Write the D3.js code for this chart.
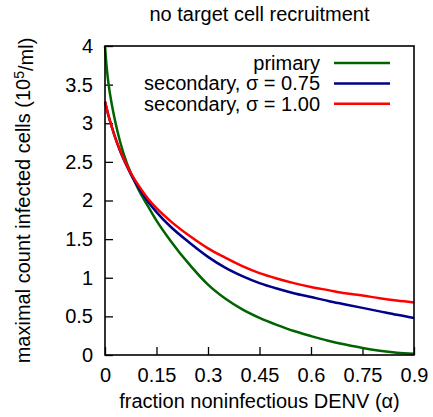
<!DOCTYPE html>
<html>
<head>
<meta charset="utf-8">
<script src="https://cdn.jsdelivr.net/npm/d3@7"></script>
<style>
  html, body { margin: 0; padding: 0; background: #fff; }
  svg { display: block; }
  text { font-family: "Liberation Sans", Arial, Helvetica, sans-serif; fill: #000; }
</style>
</head>
<body>
<svg id="chart" width="433" height="417"></svg>
<script>
// ---- data ----
const alpha = [0, 0.005, 0.01, 0.02, 0.03, 0.044, 0.063, 0.08, 0.1, 0.126, 0.15, 0.189, 0.25, 0.3, 0.35, 0.4, 0.45, 0.5, 0.55, 0.6, 0.65, 0.7, 0.75, 0.8, 0.85, 0.9];
const primary = [4.0, 3.72, 3.52, 3.24, 3.02, 2.76, 2.49, 2.31, 2.12, 1.92, 1.74, 1.49, 1.15, 0.91, 0.73, 0.59, 0.48, 0.39, 0.31, 0.245, 0.185, 0.135, 0.09, 0.055, 0.03, 0.015];
const secondary075 = [3.28, 3.19, 3.10, 2.95, 2.81, 2.64, 2.45, 2.30, 2.15, 1.98, 1.85, 1.67, 1.44, 1.27, 1.13, 1.02, 0.93, 0.86, 0.80, 0.75, 0.70, 0.655, 0.61, 0.565, 0.52, 0.48];
const secondary100 = [3.28, 3.19, 3.10, 2.95, 2.81, 2.65, 2.46, 2.32, 2.18, 2.02, 1.90, 1.74, 1.53, 1.38, 1.26, 1.15, 1.06, 0.99, 0.93, 0.88, 0.84, 0.80, 0.77, 0.735, 0.705, 0.68];

const seriesNames = ["primary", "secondary, σ = 0.75", "secondary, σ = 1.00"];
const seriesColors = ["#006400", "#00008b", "#ff0000"];
const seriesValues = [primary, secondary075, secondary100];

const xTicks = [0, 0.15, 0.3, 0.45, 0.6, 0.75, 0.9];
const xTickLabels = ["0", "0.15", "0.3", "0.45", "0.6", "0.75", "0.9"];
const yTicks = [0, 0.5, 1, 1.5, 2, 2.5, 3, 3.5, 4];
const yTickLabels = ["0", "0.5", "1", "1.5", "2", "2.5", "3", "3.5", "4"];

const titleText = "no target cell recruitment";
const xLabelText = "fraction noninfectious DENV (α)";

// ---- layout ----
const W = 433, H = 417;
const margin = { left: 105, top: 46, right: 19, bottom: 62 };
const pw = W - margin.left - margin.right;
const ph = H - margin.top - margin.bottom;
const FS = 20;

const svg = d3.select("#chart");
const g = svg.append("g").attr("transform", `translate(${margin.left},${margin.top})`);

const x = d3.scaleLinear().domain([0, 0.9]).range([0, pw]);
const y = d3.scaleLinear().domain([0, 4]).range([ph, 0]);

// axes with inward ticks
const xAxis = d3.axisBottom(x).tickValues(xTicks)
  .tickFormat((d, i) => xTickLabels[i]).tickSizeInner(-8).tickSizeOuter(0).tickPadding(13);
const yAxis = d3.axisLeft(y).tickValues(yTicks)
  .tickFormat((d, i) => yTickLabels[i]).tickSizeInner(-8).tickSizeOuter(0).tickPadding(12);

const gx = g.append("g").attr("transform", `translate(0,${ph})`).call(xAxis);
const gy = g.append("g").call(yAxis);
[gx, gy].forEach(a => {
  a.select(".domain").remove();
  a.selectAll(".tick line").attr("stroke", "#000").attr("stroke-width", 1.3);
  a.selectAll(".tick text").attr("font-size", FS).attr("font-family", "Liberation Sans, Arial, sans-serif");
});

// curves
const line = d3.line().x((d, i) => x(alpha[i])).y(d => y(d)).curve(d3.curveMonotoneX);
seriesValues.forEach((vals, k) => {
  g.append("path").datum(vals)
    .attr("d", line)
    .attr("fill", "none")
    .attr("stroke", seriesColors[k])
    .attr("stroke-width", 2.5)
    .attr("stroke-linejoin", "round");
});

// frame
g.append("rect").attr("x", 0).attr("y", 0).attr("width", pw).attr("height", ph)
  .attr("fill", "none").attr("stroke", "#000").attr("stroke-width", 1.6);

// legend
const legX = 320 - margin.left, legLine0 = 334 - margin.left, legLine1 = 390 - margin.left;
const legY0 = 63 - margin.top, legDy = 20.4;
seriesNames.forEach((name, k) => {
  const yy = legY0 + k * legDy;
  g.append("text").attr("x", legX).attr("y", yy).attr("dy", "0.35em")
    .attr("text-anchor", "end").attr("font-size", FS).text(name);
  g.append("line").attr("x1", legLine0).attr("x2", legLine1).attr("y1", yy).attr("y2", yy)
    .attr("stroke", seriesColors[k]).attr("stroke-width", 2.5);
});

// title
svg.append("text").attr("x", margin.left + pw / 2).attr("y", 21)
  .attr("text-anchor", "middle").attr("font-size", FS).text(titleText);

// x label
svg.append("text").attr("x", margin.left + pw / 2).attr("y", 408)
  .attr("text-anchor", "middle").attr("font-size", FS).text(xLabelText);

// y label with superscript
const yl = svg.append("text")
  .attr("transform", `translate(30,${margin.top + ph / 2}) rotate(-90)`)
  .attr("text-anchor", "middle").attr("font-size", FS);
yl.append("tspan").text("maximal count infected cells (10");
yl.append("tspan").attr("dy", "-0.45em").attr("font-size", FS * 0.7).text("5");
yl.append("tspan").attr("dy", "0.45em").text("/ml)");
</script>
</body>
</html>
